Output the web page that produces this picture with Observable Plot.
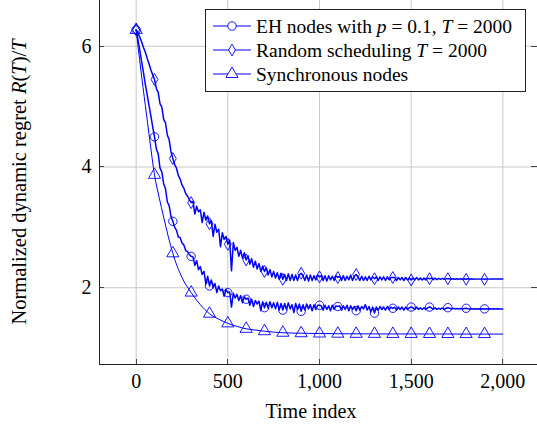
<!DOCTYPE html>
<html><head><meta charset="utf-8">
<script src="https://cdn.jsdelivr.net/npm/d3@7"></script>
<script src="https://cdn.jsdelivr.net/npm/@observablehq/plot@0.6"></script>
<style>
body{margin:0;background:#fff}
#chart{width:537px;height:427px;overflow:hidden}
</style>
</head><body><div id="chart"></div>
<script>
// ---- data ----
const xTicks = [0, 500, 1000, 1500, 2000];
const yTicks = [2, 4, 6];
const timeIndex = d3.range(0, 2001, 10);
const ehValues = [
 6.27,6.10,5.93,5.74,5.56,5.37,5.20,5.02,4.85,4.67,
 4.50,4.30,4.22,3.98,3.92,3.72,3.64,3.42,3.36,3.18,
 3.10,3.00,2.95,2.84,2.83,2.74,2.71,2.62,2.60,2.55,
 2.52,2.51,2.37,2.45,2.30,2.35,2.22,2.27,2.06,2.19,
 2.03,2.13,2.00,2.07,1.92,2.03,1.95,1.98,1.86,1.97,
 1.92,1.93,1.68,1.91,1.83,1.89,1.79,1.87,1.75,1.85,
 1.81,1.83,1.71,1.81,1.69,1.79,1.73,1.78,1.62,1.77,
 1.67,1.76,1.66,1.77,1.67,1.75,1.65,1.76,1.63,1.74,
 1.63,1.74,1.64,1.75,1.65,1.72,1.59,1.74,1.64,1.73,
 1.61,1.72,1.63,1.73,1.65,1.72,1.62,1.72,1.64,1.71,
 1.71,1.70,1.63,1.71,1.64,1.70,1.62,1.71,1.64,1.70,
 1.69,1.70,1.63,1.70,1.64,1.71,1.62,1.70,1.64,1.69,
 1.62,1.70,1.63,1.69,1.65,1.72,1.63,1.69,1.60,1.68,
 1.58,1.68,1.63,1.69,1.64,1.68,1.63,1.69,1.64,1.68,
 1.66,1.68,1.63,1.68,1.64,1.68,1.63,1.68,1.64,1.67,
 1.68,1.67,1.64,1.68,1.64,1.67,1.64,1.67,1.64,1.67,
 1.68,1.67,1.64,1.67,1.64,1.66,1.645,1.665,1.64,1.66,
 1.67,1.66,1.645,1.66,1.65,1.655,1.65,1.655,1.65,1.655,
 1.66,1.652,1.648,1.652,1.648,1.652,1.648,1.652,1.648,1.652,
 1.65,1.652,1.648,1.651,1.649,1.651,1.649,1.651,1.649,1.65,
 1.65
];
const randomValues = [
 6.27,6.22,6.15,6.07,5.98,5.90,5.80,5.71,5.61,5.53,
 5.45,5.30,5.24,5.05,4.99,4.79,4.73,4.53,4.45,4.25,
 4.14,4.04,3.98,3.86,3.80,3.70,3.65,3.56,3.52,3.46,
 3.41,3.43,3.22,3.35,3.26,3.29,3.08,3.25,3.12,3.19,
 3.06,3.11,2.85,3.05,2.92,2.97,2.68,2.91,2.80,2.85,
 2.72,2.79,2.28,2.75,2.62,2.67,2.52,2.62,2.49,2.58,
 2.46,2.53,2.39,2.48,2.34,2.44,2.31,2.40,2.27,2.36,
 2.27,2.33,2.21,2.30,2.18,2.27,2.16,2.25,2.14,2.24,
 2.14,2.22,2.12,2.23,2.12,2.22,2.12,2.21,2.12,2.21,
 2.24,2.20,2.12,2.21,2.11,2.21,2.12,2.20,2.13,2.21,
 2.18,2.20,2.12,2.20,2.11,2.20,2.13,2.19,2.12,2.20,
 2.17,2.19,2.12,2.20,2.12,2.19,2.13,2.21,2.12,2.19,
 2.22,2.18,2.12,2.19,2.12,2.18,2.12,2.19,2.13,2.18,
 2.15,2.18,2.12,2.18,2.13,2.18,2.12,2.18,2.13,2.17,
 2.17,2.17,2.12,2.17,2.13,2.17,2.12,2.17,2.13,2.16,
 2.13,2.16,2.13,2.17,2.13,2.16,2.13,2.16,2.13,2.16,
 2.15,2.16,2.135,2.16,2.135,2.155,2.14,2.155,2.14,2.15,
 2.15,2.15,2.14,2.15,2.14,2.15,2.142,2.148,2.142,2.148,
 2.14,2.148,2.142,2.148,2.142,2.147,2.143,2.147,2.143,2.147,
 2.14,2.147,2.143,2.146,2.144,2.146,2.144,2.146,2.144,2.145,
 2.145
];
const syncTimes  = [0,25,50,75,100,125,150,175,200,250,300,350,400,450,500,550,600,650,700,750,800,900,1000,1100,1200,1300,1400,1500,1600,1700,1800,1900,2000];
const syncValues = [6.27,5.62,5.02,4.43,3.87,3.50,3.17,2.85,2.57,2.17,1.92,1.72,1.57,1.48,1.41,1.36,1.32,1.30,1.28,1.265,1.255,1.247,1.242,1.239,1.237,1.236,1.235,1.235,1.234,1.234,1.233,1.233,1.233];

// ---- tables ----
const eh = timeIndex.map((t, i) => ({t, v: ehValues[i]}));
const rnd = timeIndex.map((t, i) => ({t, v: randomValues[i]}));
const syn = syncTimes.map((t, i) => ({t, v: syncValues[i]}));
const marksOf = arr => arr.filter(d => d.t % 100 === 0 && d.t < 2000);

const blue = "#0000ff";
const font = "'Liberation Serif', 'DejaVu Serif', serif";

const plot = Plot.plot({
  width: 537, height: 427,
  marginLeft: 99, marginRight: 0, marginTop: 0, marginBottom: 63,
  x: {domain: [-200, 2200], range: [99, 539]},
  y: {domain: [0.729, 6.774], range: [364, -1]},
  style: {fontFamily: font, fontSize: "20px", background: "white", color: "black"},
  marks: [
    Plot.gridX(xTicks, {stroke: "#c8c8c8", strokeOpacity: 1, strokeWidth: 1}),
    Plot.gridY(yTicks, {stroke: "#c8c8c8", strokeOpacity: 1, strokeWidth: 1}),
    Plot.axisX(xTicks, {tickSize: 0, tickPadding: 9, label: null, tickFormat: d3.format(","), fontSize: 20}),
    Plot.axisY(yTicks, {tickSize: 0, tickPadding: 8, label: null, tickFormat: d3.format("d"), fontSize: 20}),
    Plot.line(syn, {x: "t", y: "v", stroke: blue, strokeWidth: 1, curve: "monotone-x"}),
    Plot.line(eh, {x: "t", y: "v", stroke: blue, strokeWidth: 1.5}),
    Plot.line(rnd, {x: "t", y: "v", stroke: blue, strokeWidth: 1.5}),
    Plot.dot(marksOf(syn), {x: "t", y: "v", symbol: "triangle", r: 4.5, stroke: blue, strokeWidth: 0.9, fill: "none"}),
    Plot.dot(marksOf(eh), {x: "t", y: "v", symbol: "circle", r: 4.2, stroke: blue, strokeWidth: 0.9, fill: "none"}),
    Plot.dot(marksOf(rnd), {x: "t", y: "v", symbol: "diamond", r: 3.6, stroke: blue, strokeWidth: 0.9, fill: "none"}),
    Plot.ruleX([-200], {stroke: "#222", strokeWidth: 1}),
    Plot.ruleY([0.729], {stroke: "#222", strokeWidth: 1})
  ]
});
document.getElementById("chart").appendChild(plot);

const sx = v => plot.scale("x").apply(v);
const sy = v => plot.scale("y").apply(v);
const svg = d3.select(plot);

// inward major ticks
const tg = svg.append("g").attr("stroke", "#333").attr("stroke-width", 0.9);
yTicks.forEach(v => {
  const y = Math.round(sy(v)) + 0.5;
  tg.append("line").attr("x1", 99).attr("x2", 104).attr("y1", y).attr("y2", y);
  tg.append("line").attr("x1", 531).attr("x2", 539).attr("y1", y).attr("y2", y);
});
xTicks.forEach(v => {
  const x = Math.round(sx(v)) + 0.5;
  tg.append("line").attr("x1", x).attr("x2", x).attr("y1", 364).attr("y2", 359);
});

// axis titles
const yl = svg.append("text").attr("transform", "translate(26,182) rotate(-90)")
  .attr("text-anchor", "middle").attr("font-family", font).attr("font-size", 20.5).attr("fill", "black");
yl.append("tspan").text("Normalized dynamic regret ");
yl.append("tspan").attr("font-style", "italic").text("R");
yl.append("tspan").text("(");
yl.append("tspan").attr("font-style", "italic").text("T");
yl.append("tspan").text(")/");
yl.append("tspan").attr("font-style", "italic").text("T");

svg.append("text").attr("x", 311).attr("y", 418).attr("text-anchor", "middle")
  .attr("font-family", font).attr("font-size", 20).attr("fill", "black").text("Time index");

// legend
const lg = svg.append("g");
lg.append("rect").attr("x", 205.5).attr("y", 9.5).attr("width", 320).attr("height", 82)
  .attr("fill", "white").attr("stroke", "#222").attr("stroke-width", 1);
const rows = [
  {y: 26, sym: d3.symbolCircle, r: 4.2, parts: [["EH nodes with ", false], ["p", true], [" = 0.1, ", false], ["T", true], [" = 2000", false]]},
  {y: 50, sym: d3.symbolDiamond, r: 3.6, parts: [["Random scheduling ", false], ["T", true], [" = 2000", false]]},
  {y: 74, sym: d3.symbolTriangle, r: 4.5, parts: [["Synchronous nodes", false]]}
];
rows.forEach(row => {
  lg.append("line").attr("x1", 213).attr("x2", 251).attr("y1", row.y).attr("y2", row.y)
    .attr("stroke", blue).attr("stroke-width", 1);
  lg.append("path").attr("d", d3.symbol(row.sym, Math.PI * row.r * row.r)())
    .attr("transform", `translate(232,${row.y})`).attr("fill", "white").attr("stroke", blue).attr("stroke-width", 0.9);
  const t = lg.append("text").attr("x", 256).attr("y", row.y + 6.5).attr("text-anchor", "start")
    .attr("font-family", font).attr("font-size", 19.5).attr("fill", "black");
  row.parts.forEach(([s, it]) => {
    const sp = t.append("tspan").text(s);
    if (it) sp.attr("font-style", "italic");
  });
});
</script></body></html>
